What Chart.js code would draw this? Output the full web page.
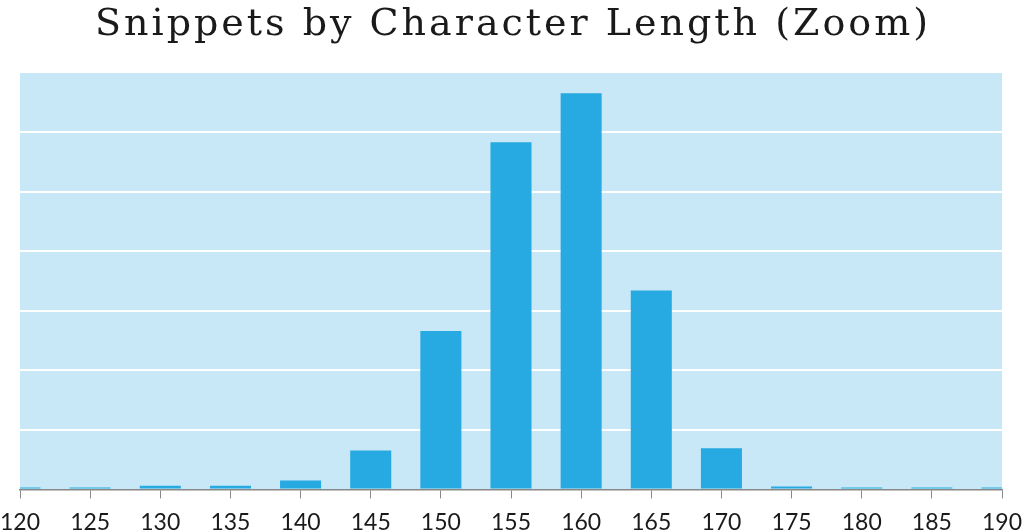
<!DOCTYPE html>
<html>
<head>
<meta charset="utf-8">
<script src="https://cdn.jsdelivr.net/npm/chart.js@4/dist/chart.umd.min.js"></script>
<style>
  html, body { margin: 0; padding: 0; background: #fff; }
  #wrap { width: 1023px; height: 532px; }
</style>
</head>
<body>
<div id="wrap"><canvas id="snippets"></canvas></div>
<script>
// character length buckets and snippet counts
const lengths = ['120', '125', '130', '135', '140', '145', '150', '155', '160', '165', '170', '175', '180', '185', '190'];
const counts = [3, 3, 6, 6, 15, 65, 265, 581, 663, 333, 69, 5, 3, 3, 3];
const titleText = 'Snippets by Character Length (Zoom)';

// fill the plot area with light blue
const plotBackground = {
    id: 'plotBackground',
    beforeDraw(chart) {
        const { ctx, chartArea } = chart;
        ctx.save();
        ctx.fillStyle = '#c8e8f7';
        ctx.fillRect(chartArea.left, chartArea.top, chartArea.right - chartArea.left, chartArea.bottom - chartArea.top);
        ctx.restore();
    }
};

// wide-spaced title (the built-in title cannot set letter spacing)
const spacedTitle = {
    id: 'spacedTitle',
    afterDraw(chart) {
        const ctx = chart.ctx;
        ctx.save();
        ctx.font = '38px "DejaVu Serif"';
        ctx.letterSpacing = '3px';
        ctx.fillStyle = '#1a1a1a';
        ctx.textAlign = 'center';
        ctx.textBaseline = 'alphabetic';
        ctx.fillText(titleText, chart.width / 2 + 1.5, 35);
        ctx.restore();
    }
};

const ctx = document.getElementById('snippets').getContext('2d');
new Chart(ctx, {
    type: 'bar',
    data: {
        labels: lengths,
        datasets: [{
            label: 'Snippets',
            data: counts,
            backgroundColor: '#27aae1',
            categoryPercentage: 1,
            barPercentage: 0.585
        }]
    },
    options: {
        responsive: true,
        maintainAspectRatio: false,
        animation: false,
        layout: { padding: { left: 20, right: 21, top: 73, bottom: -14 } },
        plugins: {
            legend: { display: false },
            tooltip: { enabled: false },
            title: { display: false }
        },
        scales: {
            x: {
                offset: false,
                // edge labels run off the canvas like in the original
                afterFit(scale) {
                    scale.paddingLeft = 0;
                    scale.paddingRight = 0;
                },
                grid: {
                    offset: false,
                    drawOnChartArea: false,
                    tickLength: 9,
                    color: '#888888'
                },
                border: { color: '#888888', width: 1.5, z: 1 },
                ticks: {
                    color: '#1a1a1a',
                    padding: 10,
                    maxRotation: 0,
                    autoSkip: false,
                    font: { family: 'Lato', size: 23, lineHeight: 1.2 }
                }
            },
            y: {
                min: 0,
                max: 697,
                ticks: { display: false, stepSize: 100 },
                border: { display: false },
                grid: {
                    drawTicks: false,
                    lineWidth: 2,
                    color: ['rgba(0,0,0,0)', '#ffffff', '#ffffff', '#ffffff', '#ffffff', '#ffffff', '#ffffff', 'rgba(0,0,0,0)']
                }
            }
        }
    },
    plugins: [plotBackground, spacedTitle]
});
</script>
</body>
</html>
